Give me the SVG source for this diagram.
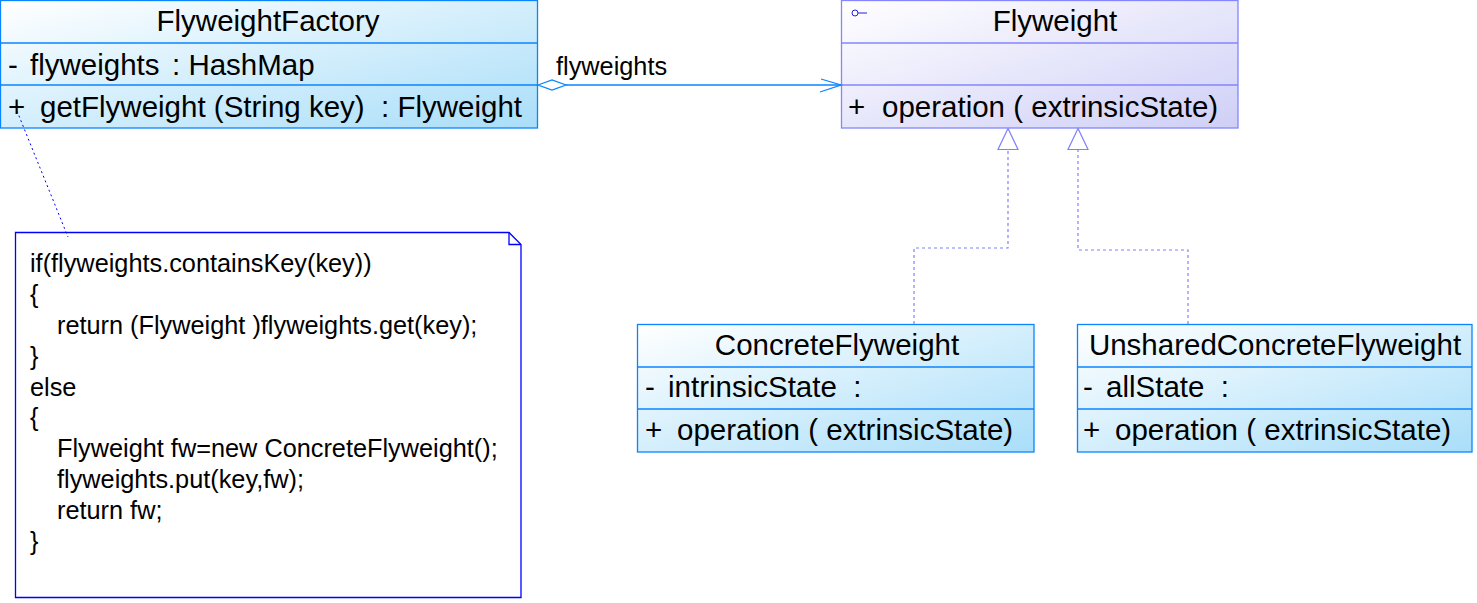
<svg xmlns="http://www.w3.org/2000/svg" width="1477" height="603" viewBox="0 0 1477 603">
<style>
  .t { font-family: "Liberation Sans", Arial, sans-serif; font-size: 29.5px; fill: #000; }
  .n { font-family: "Liberation Sans", Arial, sans-serif; font-size: 25.3px; fill: #000; }
  .cb { stroke: #0a84ff; stroke-width: 1.3; fill: url(#gBlue); }
  .cl { stroke: #0a84ff; stroke-width: 1.3; }
  .ib { stroke: #8585ff; stroke-width: 1.3; fill: url(#gPurple); }
  .il { stroke: #8585ff; stroke-width: 1.3; }
  .real { stroke: #8080ff; stroke-width: 1.2; fill: none; stroke-dasharray: 3 3; }
</style>
<defs>
  <linearGradient id="gBlue" x1="0" y1="0" x2="1" y2="1">
    <stop offset="0" stop-color="#ffffff"/>
    <stop offset="1" stop-color="#a9def9"/>
  </linearGradient>
  <linearGradient id="gPurple" x1="0" y1="0" x2="1" y2="1">
    <stop offset="0" stop-color="#ffffff"/>
    <stop offset="1" stop-color="#cfcff7"/>
  </linearGradient>
</defs>
<rect width="1477" height="603" fill="#ffffff"/>

<g id="FlyweightFactory">
  <rect class="cb" x="0.5" y="0.5" width="537" height="127.5"/>
  <line class="cl" x1="0" y1="43" x2="537" y2="43"/>
  <line class="cl" x1="0" y1="85" x2="537" y2="85"/>
  <text class="t" x="268" y="31" text-anchor="middle">FlyweightFactory</text>
  <text class="t" x="8" y="75">-</text>
  <text class="t" x="30" y="75">flyweights</text>
  <text class="t" x="172" y="75">: HashMap</text>
  <text class="t" x="8" y="117">+</text>
  <text class="t" x="40" y="117" xml:space="preserve">getFlyweight (String key)  : Flyweight</text>
</g>

<g id="Flyweight">
  <rect class="ib" x="841.5" y="0.5" width="396.5" height="127.5"/>
  <line class="il" x1="841" y1="43" x2="1238" y2="43"/>
  <line class="il" x1="841" y1="85" x2="1238" y2="85"/>
  <circle cx="855" cy="13" r="3" fill="none" stroke="#2020e0" stroke-width="1"/>
  <line x1="858" y1="13" x2="867" y2="13" stroke="#2020e0" stroke-width="1"/>
  <text class="t" x="1055" y="31" text-anchor="middle">Flyweight</text>
  <text class="t" x="848" y="117">+</text>
  <text class="t" x="882" y="117">operation ( extrinsicState)</text>
</g>

<g id="ConcreteFlyweight">
  <rect class="cb" x="637.5" y="324.5" width="396.5" height="127.5"/>
  <line class="cl" x1="637" y1="367" x2="1034" y2="367"/>
  <line class="cl" x1="637" y1="409" x2="1034" y2="409"/>
  <text class="t" x="837" y="355" text-anchor="middle">ConcreteFlyweight</text>
  <text class="t" x="645" y="397">-</text>
  <text class="t" x="668" y="397" xml:space="preserve">intrinsicState  :</text>
  <text class="t" x="645" y="440">+</text>
  <text class="t" x="677" y="440">operation ( extrinsicState)</text>
</g>

<g id="UnsharedConcreteFlyweight">
  <rect class="cb" x="1077.5" y="324.5" width="394.5" height="127.5"/>
  <line class="cl" x1="1077" y1="367" x2="1472" y2="367"/>
  <line class="cl" x1="1077" y1="409" x2="1472" y2="409"/>
  <text class="t" x="1275" y="355" text-anchor="middle">UnsharedConcreteFlyweight</text>
  <text class="t" x="1083" y="397">-</text>
  <text class="t" x="1106" y="397" xml:space="preserve">allState  :</text>
  <text class="t" x="1083" y="440">+</text>
  <text class="t" x="1115" y="440">operation ( extrinsicState)</text>
</g>

<g id="Note">
  <path d="M15.5 232.5 H509 L521 244.5 V597.5 H15.5 Z" fill="#ffffff" stroke="#0000ff" stroke-width="1.3"/>
  <path d="M509 232.5 V244.5 H521" fill="none" stroke="#0000ff" stroke-width="1.3"/>
  <text class="n" x="30" y="272">if(flyweights.containsKey(key))</text>
  <text class="n" x="30" y="303">{</text>
  <text class="n" x="57" y="334">return (Flyweight )flyweights.get(key);</text>
  <text class="n" x="30" y="365">}</text>
  <text class="n" x="30" y="396">else</text>
  <text class="n" x="30" y="426">{</text>
  <text class="n" x="57" y="457">Flyweight fw=new ConcreteFlyweight();</text>
  <text class="n" x="57" y="488">flyweights.put(key,fw);</text>
  <text class="n" x="57" y="519">return fw;</text>
  <text class="n" x="30" y="550">}</text>
</g>

<g id="connectors">
  <line x1="17" y1="111" x2="68" y2="237" stroke="#0000ff" stroke-width="1" stroke-dasharray="2 3"/>
  <line x1="566" y1="85" x2="841" y2="85" stroke="#0a84ff" stroke-width="1.3"/>
  <polygon points="538,85 552,80 566,85 552,90" fill="#ffffff" stroke="#0a84ff" stroke-width="1.3"/>
  <polyline points="821,79 841,85 820,92" fill="none" stroke="#0a84ff" stroke-width="1.3"/>
  <text class="n" x="556" y="75">flyweights</text>
  <polyline class="real" points="914,324 914,248 1008,248 1008,150"/>
  <polygon points="1008,128.5 998,149.5 1018,149.5" fill="#ffffff" stroke="#8080ff" stroke-width="1.2"/>
  <polyline class="real" points="1188,324 1188,250 1078,250 1078,150"/>
  <polygon points="1078,128.5 1068,149.5 1088,149.5" fill="#ffffff" stroke="#8080ff" stroke-width="1.2"/>
</g>
</svg>
